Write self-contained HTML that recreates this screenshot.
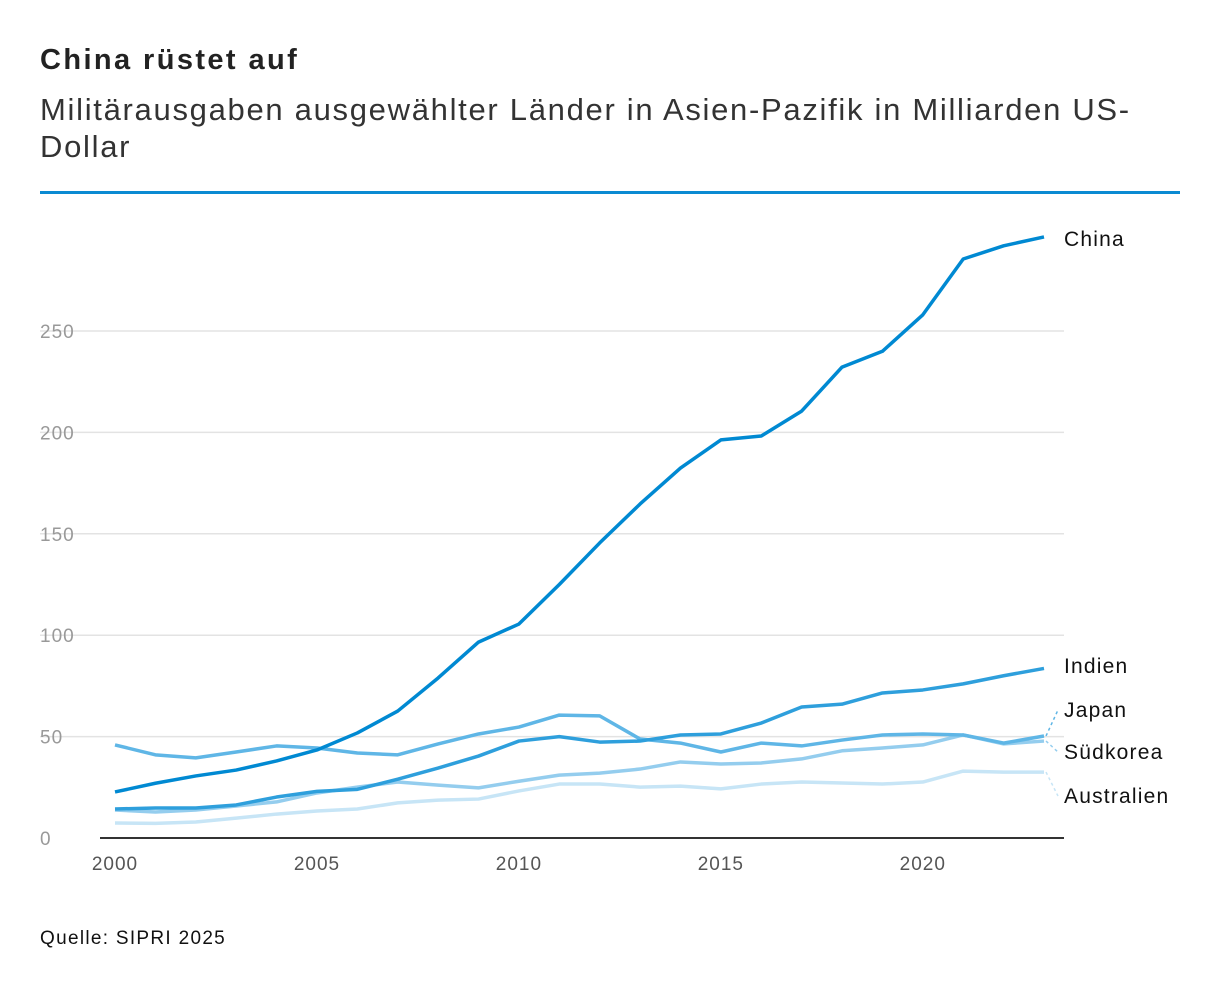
<!DOCTYPE html>
<html><head><meta charset="utf-8"><style>
body{margin:0;background:#fff;font-family:"Liberation Sans",sans-serif;}
.wrap{position:relative;width:1220px;height:996px;}
h1{position:absolute;left:40px;top:44px;margin:0;font-size:29px;font-weight:bold;color:#222;letter-spacing:2.4px;}
h2{position:absolute;left:40px;top:91px;margin:0;font-size:31px;font-weight:normal;color:#333;line-height:37px;width:1160px;letter-spacing:1.7px;}
.rule{position:absolute;left:40px;top:191px;width:1140px;height:3px;background:#0a8ad2;}
.src{position:absolute;left:40px;top:928px;font-size:19px;color:#111;letter-spacing:1.3px;}
</style></head><body><div class="wrap">
<h1>China rüstet auf</h1>
<h2>Militärausgaben ausgewählter Länder in Asien-Pazifik in Milliarden US-<br>Dollar</h2>
<div class="rule"></div>
<svg id="c" width="1220" height="996" style="position:absolute;left:0;top:0"></svg>
<div class="src">Quelle: SIPRI 2025</div>
</div>
<script>
const years=[2000,2001,2002,2003,2004,2005,2006,2007,2008,2009,2010,2011,2012,2013,2014,2015,2016,2017,2018,2019,2020,2021,2022,2023];
const china=[22.7,27,30.6,33.5,38,43.4,51.8,62.6,78.9,96.6,105.5,125,145.5,164.7,182.4,196.3,198.2,210.5,232.2,240,258,285.5,292,296.4];
const indien=[14.3,14.8,14.8,16.3,20.2,23,24,29,34.5,40.4,47.8,50,47.3,47.8,50.8,51.3,56.7,64.6,66,71.5,73,76,80,83.6];
const japan=[45.9,41,39.5,42.4,45.4,44.4,41.9,41,46.4,51.3,54.7,60.6,60.2,48.8,46.8,42.4,46.8,45.4,48.3,50.8,51.3,50.8,46.8,50.3];
const suedkorea=[13.8,12.8,13.8,15.8,17.8,22.2,25.1,27.6,26.1,24.7,28,31,32,34,37.5,36.5,37,39,43,44.4,45.9,50.8,46.4,47.8];
const australien=[7.4,7.2,7.9,9.8,11.8,13.3,14.3,17.3,18.7,19.2,23.2,26.6,26.6,25.1,25.6,24.2,26.6,27.6,27.1,26.6,27.6,33,32.5,32.5];
const yTicks=[0,50,100,150,200,250];
const xTicks=[2000,2005,2010,2015,2020];
const NS="http://www.w3.org/2000/svg";
const svg=document.getElementById('c');
const x=v=>115+(v-2000)*(1044-115)/23;
const y=v=>838-v*(838-331)/250;
function mk(t,a){const e=document.createElementNS(NS,t);for(const k in a)e.setAttribute(k,a[k]);svg.appendChild(e);return e;}
yTicks.forEach(t=>{
 if(t>0){const g=mk('line',{x1:40,x2:1064,y1:y(t),y2:y(t),stroke:'#e3e3e3','stroke-width':1.5});
 
 }
 const l=mk('text',{x:40,y:y(t)+7,'font-size':19,fill:'#999','letter-spacing':1,'font-family':'Liberation Sans, sans-serif'});l.textContent=t;
 
 
});
const ax=mk('line',{x1:100,x2:1064,y1:838,y2:838,stroke:'#333','stroke-width':2});


xTicks.forEach(t=>{const l=mk('text',{x:x(t),y:870,'font-size':19,fill:'#555','text-anchor':'middle','letter-spacing':1,'font-family':'Liberation Sans, sans-serif'});l.textContent=t;
 
 });
const series=[
 ['Australien',australien,'#c7e5f6',796,'australien'],
 ['Südkorea',suedkorea,'#94cdee',752,'suedkorea'],
 ['Japan',japan,'#5fb6e6',710,'japan'],
 ['Indien',indien,'#2e9fdc',666,'indien'],
 ['China',china,'#0089d2',239,'china']];
series.forEach(([name,vals,col,ly,key])=>{
 const p=mk('polyline',{points:vals.map((v,i)=>x(years[i])+','+y(v)).join(' '),fill:'none',stroke:col,'stroke-width':3.5,'stroke-linejoin':'round'});
 
 
 const ey=y(vals[vals.length-1]);
 if(Math.abs(ey-ly)>3){const c=mk('line',{x1:1046,y1:ey,x2:1058,y2:ly,stroke:col,'stroke-width':1.5,'stroke-dasharray':'3,3'});
 
 }
 const t=mk('text',{x:1064,y:ly+7,'font-size':21,fill:'#111','letter-spacing':1.2,'font-family':'Liberation Sans, sans-serif'});t.textContent=name;
 
 
});
</script></body></html>
